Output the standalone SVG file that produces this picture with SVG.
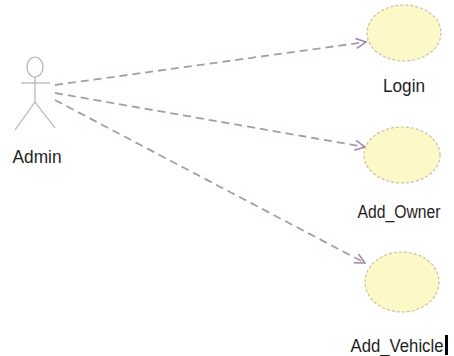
<svg xmlns="http://www.w3.org/2000/svg" width="454" height="356" viewBox="0 0 454 356">
<defs>
<style>
.lbl{font-family:"Liberation Sans",Arial,sans-serif;font-size:18px;fill:#1e1e1e;text-anchor:middle}
.uc{fill:#fdf8c8;stroke:#c9c09c;stroke-width:1.2;stroke-dasharray:3 2}
.act{fill:none;stroke:#b9aeae;stroke-width:1.2}
.dep{fill:none;stroke:#aa9aa8;stroke-width:1.8;stroke-dasharray:8 5}
</style>
<marker id="arr" viewBox="0 0 12 12" refX="11" refY="6" markerWidth="12" markerHeight="12" markerUnits="userSpaceOnUse" orient="auto">
<path d="M1,1 L11,6 L1,11" fill="none" stroke="#a083a6" stroke-width="1.5"/>
</marker>
</defs>
<rect width="454" height="356" fill="#ffffff"/>
<g id="connectors">
<line class="dep" x1="55" y1="85" x2="366" y2="42" marker-end="url(#arr)"/>
<line class="dep" x1="55" y1="93" x2="365" y2="147" marker-end="url(#arr)"/>
<line class="dep" x1="55" y1="100" x2="365" y2="263" marker-end="url(#arr)"/>
</g>
<g id="admin">
<ellipse class="act" cx="35" cy="67" rx="8" ry="10"/>
<line class="act" x1="21" y1="83" x2="50" y2="83"/>
<line class="act" x1="35" y1="77" x2="35" y2="102"/>
<line class="act" x1="35" y1="102" x2="15" y2="130"/>
<line class="act" x1="35" y1="102" x2="55" y2="128"/>
<text class="lbl" x="37" y="163" textLength="49" lengthAdjust="spacingAndGlyphs">Admin</text>
</g>
<g id="login">
<ellipse class="uc" cx="404" cy="33" rx="37" ry="28"/>
<text class="lbl" x="404" y="92" textLength="42" lengthAdjust="spacingAndGlyphs">Login</text>
</g>
<g id="add_owner">
<ellipse class="uc" cx="402" cy="155" rx="38" ry="28"/>
<text class="lbl" x="399" y="218" textLength="83" lengthAdjust="spacingAndGlyphs">Add_Owner</text>
</g>
<g id="add_vehicle">
<ellipse class="uc" cx="402" cy="282" rx="37" ry="30"/>
<text class="lbl" x="397" y="352" textLength="93" lengthAdjust="spacingAndGlyphs">Add_Vehicle</text>
<rect x="445" y="335" width="3" height="20" fill="#000"/>
</g>
</svg>
